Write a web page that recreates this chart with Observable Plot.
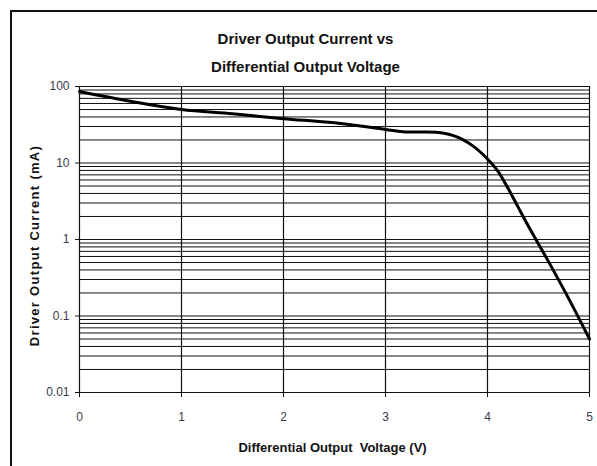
<!DOCTYPE html>
<html>
<head>
<meta charset="utf-8">
<script src="https://cdn.jsdelivr.net/npm/d3@7"></script>
<script src="https://cdn.jsdelivr.net/npm/@observablehq/plot@0.6"></script>
<style>
  html, body { margin: 0; padding: 0; background: #fff; overflow: hidden; }
  #wrap { position: relative; width: 597px; height: 466px; overflow: hidden; }
  #border { position: absolute; left: 10px; top: 10px; width: 700px; height: 600px; border-left: 2px solid #111; border-top: 2px solid #111; pointer-events: none; }
  svg { display: block; }
</style>
</head>
<body>
<div id="wrap"><div id="border"></div></div>
<script>
// Data
const voltage = [0, 0.5, 1, 1.5, 2, 2.5, 3, 3.2, 3.5, 3.7, 3.85, 4, 4.1, 4.2, 4.3, 4.4, 4.6, 4.8, 5];
const current = [86, 64, 50, 44, 38, 33.5, 27.5, 25.5, 25.2, 22, 17, 11.3, 7.9, 4.7, 2.65, 1.5, 0.51, 0.165, 0.05];
const xTicks = [0, 1, 2, 3, 4, 5];
const yTicks = [0.01, 0.1, 1, 10, 100];
const yTickLabels = ["0.01", "0.1", "1", "10", "100"];
const titleLines = ["Driver Output Current vs", "Differential Output Voltage"];
const xLabel = "Differential Output  Voltage (V)";
const yLabel = "Driver Output Current (mA)";

const data = voltage.map((v, i) => ({v, c: current[i]}));
// minor log grid: 1..9 of each decade
const yGrid = [];
for (let d = 0; d < yTicks.length - 1; d++) for (let k = 1; k <= 9; k++) yGrid.push(+(yTicks[d] * k).toPrecision(3));
yGrid.push(yTicks[yTicks.length - 1]);

const font = "'Liberation Sans', Arial, sans-serif";

const chart = Plot.plot({
  width: 597,
  height: 466,
  marginTop: 86,
  marginLeft: 79,
  marginRight: 8,
  marginBottom: 74,
  style: {fontFamily: font, fontSize: "12px", color: "#333", background: "transparent"},
  x: {domain: [0, 5]},
  y: {type: "log", domain: [0.01, 100]},
  marks: [
    Plot.ruleY(yGrid, {stroke: "#111", strokeWidth: 1}),
    Plot.ruleX(xTicks, {stroke: "#111", strokeWidth: 1.2}),
    Plot.axisX({ticks: xTicks, tickSize: 5, tickPadding: 15, tickFormat: d => String(d), label: null, stroke: "#111", fill: "#3a3a4a", fontSize: 12}),
    Plot.axisY({ticks: yTicks, tickSize: 4, tickPadding: 6, tickFormat: d => yTickLabels[yTicks.indexOf(d)], label: null, stroke: "#111", fill: "#3a3a4a", fontSize: 12}),
    Plot.line(data, {x: "v", y: "c", stroke: "#000", strokeWidth: 3, curve: "catmull-rom"}),
    Plot.text([titleLines[0]], {frameAnchor: "top", dy: -47, dx: -29, lineAnchor: "middle", textAnchor: "middle", text: d => d, fontWeight: "bold", fontSize: 15, fill: "#111"}),
    Plot.text([titleLines[1]], {frameAnchor: "top", dy: -19, dx: -29, lineAnchor: "middle", textAnchor: "middle", text: d => d, fontWeight: "bold", fontSize: 15, fill: "#111"}),
    Plot.text([xLabel], {frameAnchor: "bottom", dy: 55, dx: -2, lineAnchor: "middle", textAnchor: "middle", text: d => d, fontWeight: "bold", fontSize: 13, fill: "#111"}),
    Plot.text([yLabel], {frameAnchor: "left", dx: -45, dy: 6, rotate: -90, lineAnchor: "middle", textAnchor: "middle", text: d => d, fontWeight: "bold", fontSize: 13, fill: "#111"})
  ]
});
// letter spacing for the y-axis label
d3.select(chart).selectAll("text").filter(function () { return this.textContent === yLabel; }).style("letter-spacing", "1.3px");
document.getElementById("wrap").prepend(chart);
</script>
</body>
</html>
